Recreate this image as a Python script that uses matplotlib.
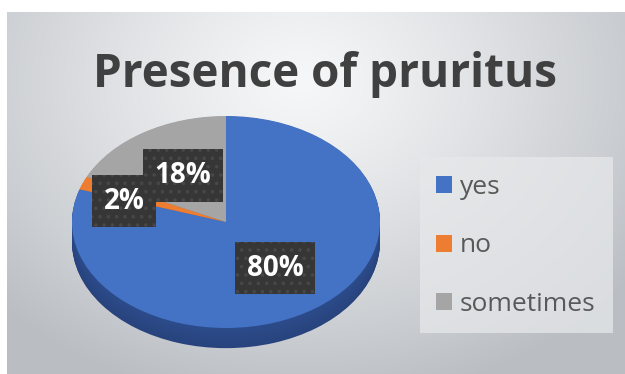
import numpy as np
import matplotlib
matplotlib.use("Agg")
import matplotlib.pyplot as plt
from matplotlib.patches import Rectangle
from matplotlib.colors import to_rgb

plt.rcParams['font.family'] = ['Open Sans', 'DejaVu Sans']
plt.rcParams['hatch.linewidth'] = 1.4

# data
title = "Presence of pruritus"
categories = ["yes", "no", "sometimes"]
values = [80, 2, 18]
colors = ["#4472C4", "#ED7D31", "#A5A5A5"]
side_colors = ["#2c4b8a", "#b45c20", "#7c7c7c"]

W, H = 625, 374
fig = plt.figure(figsize=(W / 100, H / 100), dpi=100)

# background canvas in pixel coordinates
ax0 = fig.add_axes([0, 0, 1, 1])
ax0.set_xlim(0, W)
ax0.set_ylim(H, 0)
ax0.axis('off')

gx, gy = np.meshgrid(np.linspace(7, W, 320), np.linspace(12, H, 200))
d = np.sqrt(((gx - 300) / 420) ** 2 + ((gy - 80) / 330) ** 2)
t = np.clip(d, 0, 1) ** 1.2
c0 = np.array(to_rgb("#f6f7f8"))
c1 = np.array(to_rgb("#babec3"))
bg = c0[None, None, :] * (1 - t[..., None]) + c1[None, None, :] * t[..., None]
ax0.imshow(bg, extent=(7, W, H, 12), aspect='auto', interpolation='bilinear', zorder=0)

ax0.text(325, 87, title, ha='center', va='baseline', fontsize=33,
         fontweight='bold', color='#404040', zorder=3)

# legend panel
ax0.add_patch(Rectangle((420, 157), 193, 176, facecolor='#e6e8ea', edgecolor='none',
                        alpha=0.75, zorder=1))

# 3D-style pie: extruded side drawn as stacked layers, then the top face
depth = 0.19
px_l, px_t, px_w = 72, 116, 308
px_h = 106 * (2 + depth)
axp = fig.add_axes([px_l / W, (H - px_t - px_h) / H, px_w / W, px_h / H])
axp.patch.set_alpha(0)

n_layers = 28
dark = np.array(to_rgb("#1f3566"))
for i, k in enumerate(np.linspace(-depth, -0.005, n_layers)):
    f = i / (n_layers - 1)
    lay_cols = []
    for sc in side_colors:
        s = np.array(to_rgb(sc))
        lay_cols.append(tuple(dark * (1 - f) * 0.35 + s * (1 - 0.35 * (1 - f))))
    axp.pie(values, colors=lay_cols, startangle=90, counterclock=False,
            center=(0, k), wedgeprops=dict(linewidth=0, antialiased=True))

wedges, _, autotexts = axp.pie(
    values, colors=colors, startangle=90, counterclock=False,
    autopct='%1.0f%%', pctdistance=0.54,
    wedgeprops=dict(linewidth=0, antialiased=True),
    textprops=dict(color='white', fontsize=20, fontweight='bold'))

# label placement along each wedge's mid-angle (radius, angular nudge in degrees)
label_r = [0.54, 0.69, 0.52]
label_nudge = [0, 5, 0]
for w, txt, r, nd in zip(wedges, autotexts, label_r, label_nudge):
    ang = np.deg2rad((w.theta1 + w.theta2) / 2 + nd)
    txt.set_position((r * np.cos(ang), r * np.sin(ang)))
    txt.set_bbox(dict(boxstyle='square,pad=0.42', facecolor='#363636',
                      edgecolor='#474747', linewidth=0, hatch='..'))
    txt.set_zorder(5)

axp.set_xlim(-1, 1)
axp.set_ylim(-1 - depth, 1)
axp.set_aspect('auto')
axp.axis('off')

leg = ax0.legend(wedges, categories, loc='center left',
                 bbox_to_anchor=(436 / W, 1 - 246 / H), bbox_transform=fig.transFigure,
                 frameon=False, fontsize=19, handlelength=0.6, handleheight=0.6,
                 handletextpad=0.3, labelspacing=1.27, borderpad=0, borderaxespad=0)
for tx in leg.get_texts():
    tx.set_color('#595959')
leg.set_zorder(4)

fig.savefig("out.png", dpi=100)
